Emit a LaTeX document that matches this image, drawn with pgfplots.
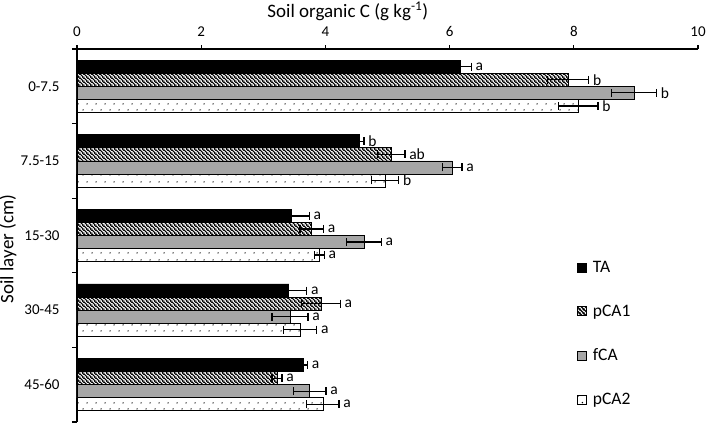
\documentclass[border=0pt]{standalone}
\usepackage{pgfplots}
\pgfplotsset{compat=1.18}
\usepackage{pgfplotstable}
\usepackage{fontspec}
\setmainfont{Carlito}
\usetikzlibrary{patterns.meta}

\tikzdeclarepattern{
  name=nwhatch, type=uncolored,
  bounding box={(0,0) and (4bp,4bp)},
  tile size={(4bp,4bp)},
  code={
    \draw[line width=1.3bp] (-1bp,5bp) -- (5bp,-1bp);
    \draw[line width=1.3bp] (-1bp,1bp) -- (1bp,-1bp);
    \draw[line width=1.3bp] (3bp,5bp) -- (5bp,3bp);
  }
}
\tikzdeclarepattern{
  name=sparsedots, type=uncolored,
  bounding box={(0,0) and (9bp,13bp)},
  tile size={(9bp,13bp)},
  code={
    \fill (2.25bp,3.25bp) circle (0.8bp);
    \fill (6.75bp,9.75bp) circle (0.8bp);
  }
}
\definecolor{fcagray}{HTML}{A6A6A6}

\pgfplotstableread{
y x e l
-0.2625 6.17 0.18 a
0.7375 4.54 0.08 b
1.7375 3.45 0.29 a
2.7375 3.41 0.29 a
3.7375 3.64 0.07 a
}\TA
\pgfplotstableread{
y x e l
-0.0875 7.91 0.33 b
0.9125 5.06 0.22 ab
1.9125 3.78 0.19 a
2.9125 3.93 0.31 a
3.9125 3.22 0.08 a
}\pCAa
\pgfplotstableread{
y x e l
0.0875 8.97 0.36 b
1.0875 6.04 0.16 a
2.0875 4.62 0.28 a
3.0875 3.43 0.29 a
4.0875 3.75 0.26 a
}\fCA
\pgfplotstableread{
y x e l
0.2625 8.07 0.32 b
1.2625 4.96 0.22 b
2.2625 3.90 0.08 a
3.2625 3.59 0.27 a
4.2625 3.96 0.26 a
}\pCAb

\begin{document}
\begin{tikzpicture}
\begin{axis}[
  name=ax,
  scale only axis, width=621bp, height=373bp,
  xmin=0, xmax=10, ymin=-0.5, ymax=4.5, y dir=reverse,
  axis x line=top, axis y line=left,
  axis line style={-, line width=1.2bp, black},
  xtick={0,2,...,10},
  ytick={0,1,2,3,4},
  yticklabels={0-7.5,7.5-15,15-30,30-45,45-60},
  minor ytick={-0.5,0.5,1.5,2.5,3.5,4.5},
  tick align=outside, major tick length=4bp, minor tick length=5bp,
  tick style={line width=1.2bp, black},
  major y tick style={draw=none},
  /pgf/number format/assume math mode=true,
  ticklabel style={font=\fontsize{15bp}{18bp}\selectfont},
  xticklabel style={yshift=5bp},
  yticklabel style={xshift=-10bp},
  xlabel={Soil organic C (g kg\textsuperscript{-1})},
  ylabel={Soil layer (cm)},
  label style={font=\fontsize{19bp}{22bp}\selectfont},
  xlabel style={at={(axis description cs:0.436,1)}, anchor=base, yshift=31.5bp},
  ylabel style={at={(axis description cs:-0.111,0.464)}, anchor=center},
  legend style={draw=none, fill=none, font=\fontsize{17.5bp}{21bp}\selectfont,
    at={(0.805,0.437)}, anchor=north west, row sep=27bp, inner sep=0pt,
    /tikz/every even column/.append style={column sep=0bp}},
  legend cell align=left,
  legend image code/.code={\draw[#1, line width=0.8bp] (0bp,-4.5bp) rectangle (9bp,4.5bp);},
  every axis plot/.append style={line width=0.8bp},
  error bars/error mark=|,
  error bars/error bar style={line width=1.3bp, black, solid},
  error bars/error mark options={line width=1.3bp, mark size=4bp, black, solid},
  nodes near coords align=horizontal,
  nodes near coords style={font=\fontsize{15.5bp}{18bp}\selectfont, anchor=west, inner sep=4bp, black},
]
\addplot[xbar, bar shift=0pt, bar width=0.175, draw=black, fill=black,
  error bars/.cd, x dir=both, x explicit]
  table[x=x, y=y, x error=e] {\TA};
\addlegendentry{\hspace{4bp}TA}
\addplot[xbar, bar shift=0pt, bar width=0.175, draw=black, fill=white, pattern={nwhatch}, pattern color=black,
  error bars/.cd, x dir=both, x explicit]
  table[x=x, y=y, x error=e] {\pCAa};
\addlegendentry{\hspace{4bp}pCA1}
\addplot[xbar, bar shift=0pt, bar width=0.175, draw=black, fill=fcagray,
  error bars/.cd, x dir=both, x explicit]
  table[x=x, y=y, x error=e] {\fCA};
\addlegendentry{\hspace{4bp}fCA}
\addplot[xbar, bar shift=0pt, bar width=0.175, draw=black, fill=white, pattern={sparsedots}, pattern color=black,
  error bars/.cd, x dir=both, x explicit]
  table[x=x, y=y, x error=e] {\pCAb};
\addlegendentry{\hspace{4bp}pCA2}

\addplot[forget plot, draw=none, mark=none, only marks, nodes near coords, point meta=explicit symbolic]
  table[x expr=\thisrow{x}+\thisrow{e}, y=y, meta=l] {\TA};
\addplot[forget plot, draw=none, mark=none, only marks, nodes near coords, point meta=explicit symbolic]
  table[x expr=\thisrow{x}+\thisrow{e}, y=y, meta=l] {\pCAa};
\addplot[forget plot, draw=none, mark=none, only marks, nodes near coords, point meta=explicit symbolic]
  table[x expr=\thisrow{x}+\thisrow{e}, y=y, meta=l] {\fCA};
\addplot[forget plot, draw=none, mark=none, only marks, nodes near coords, point meta=explicit symbolic]
  table[x expr=\thisrow{x}+\thisrow{e}, y=y, meta=l] {\pCAb};
\end{axis}
\pgfresetboundingbox
\path ([xshift=-77bp,yshift=-3bp]ax.south west) rectangle ([xshift=11bp,yshift=49bp]ax.north east);
\end{tikzpicture}
\end{document}
